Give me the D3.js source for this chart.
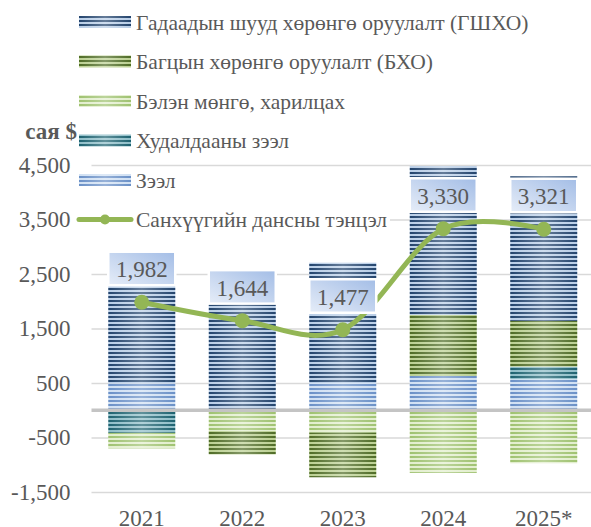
<!DOCTYPE html>
<html>
<head>
<meta charset="utf-8">
<script src="https://cdn.jsdelivr.net/npm/d3@7"></script>
<style>
  body { margin: 0; background: #fff; }
  svg { display: block; }
  svg text { font-family: 'Liberation Serif', 'Times New Roman', serif; }
</style>
</head>
<body>
<script>
// values (сая $)
var years = [ '2021', '2022', '2023', '2024', '2025*' ];
var fdi = [ 2192, 2454, 2207, 2730, 2654 ];
var portfolio = [ 0, -430, -818, 1122, 840 ];
var cash = [ -285, -380, -412, -1130, -973 ];
var tradeCredit = [ -415, 0, 0, -20, 230 ];
var loans = [ 490, 0, 500, 628, 570 ];
var balance = [ 1982, 1644, 1477, 3330, 3321 ];
var yTicks = [ -1500, -500, 500, 1500, 2500, 3500, 4500 ];

var seriesNames = {
  fdi: 'Гадаадын шууд хөрөнгө оруулалт (ГШХО)',
  portfolio: 'Багцын хөрөнгө оруулалт (БХО)',
  cash: 'Бэлэн мөнгө, харилцах',
  tradeCredit: 'Худалдааны зээл',
  loans: 'Зээл'
};
var lineName = 'Санхүүгийн дансны тэнцэл';

// stripe colours: [dark, light]
var stripes = {
  fdi: [ '#23446d', '#b9cee7' ],
  portfolio: [ '#4f6c26', '#bbd092' ],
  cash: [ '#9fc270', '#e2eecd' ],
  tradeCredit: [ '#1d6270', '#8fbec8' ],
  loans: [ '#6a90c7', '#d0e0f3' ]
};

var stackOrder = [ 'loans', 'tradeCredit', 'cash', 'portfolio', 'fdi' ];
var legendOrder = [ 'fdi', 'portfolio', 'cash', 'tradeCredit', 'loans' ];

var rows = years.map( function( yr, i ) {
  return {
    year: yr,
    fdi: fdi[i],
    portfolio: portfolio[i],
    cash: cash[i],
    tradeCredit: tradeCredit[i],
    loans: loans[i],
    balance: balance[i]
  };
} );

var width = 591,
    height = 527,
    serifFont = 'Liberation Serif',
    lineGreen = '#93b655',
    textGray = '#595959';

// plain hyphen for negatives, like the source
var fmt = function( d ) { return d3.format( ',' )( d ).replace( '\u2212', '-' ); };

var svg = d3.select( 'body' )
  .append( 'svg' )
    .attr( 'width', width )
    .attr( 'height', height )
    .attr( 'font-family', serifFont );

var defs = svg.append( 'defs' );

stackOrder.forEach( function( key ) {
  var p = defs.append( 'pattern' )
      .attr( 'id', 'pat-' + key )
      .attr( 'patternUnits', 'userSpaceOnUse' )
      .attr( 'width', 8 )
      .attr( 'height', 4 );
  p.append( 'rect' ).attr( 'width', 8 ).attr( 'height', 4 ).attr( 'fill', stripes[key][1] );
  p.append( 'rect' ).attr( 'width', 8 ).attr( 'height', 2 ).attr( 'fill', stripes[key][0] );
} );

// soft highlight across each column
var shine = defs.append( 'linearGradient' ).attr( 'id', 'shine' );
shine.append( 'stop' ).attr( 'offset', '0%' ).attr( 'stop-color', '#fff' ).attr( 'stop-opacity', 0 );
shine.append( 'stop' ).attr( 'offset', '50%' ).attr( 'stop-color', '#fff' ).attr( 'stop-opacity', 0.3 );
shine.append( 'stop' ).attr( 'offset', '100%' ).attr( 'stop-color', '#fff' ).attr( 'stop-opacity', 0 );

var labelFill = defs.append( 'linearGradient' )
    .attr( 'id', 'labelFill' )
    .attr( 'x1', 0 ).attr( 'y1', 1 ).attr( 'x2', 1 ).attr( 'y2', 0 );
labelFill.append( 'stop' ).attr( 'offset', '0%' ).attr( 'stop-color', '#e6edf8' );
labelFill.append( 'stop' ).attr( 'offset', '100%' ).attr( 'stop-color', '#a3bde6' );

// scales
var x = d3.scaleBand()
    .domain( years )
    .range( [ 91.5, 594 ] )
    .paddingInner( 0.333 )
    .paddingOuter( 0.1667 );

var y = d3.scaleLinear()
    .domain( [ -1500, 4500 ] )
    .range( [ 492, 165 ] );

// gridlines + y labels
svg.append( 'g' )
    .attr( 'transform', 'translate(91.5,0)' )
    .call( d3.axisLeft( y )
      .tickValues( yTicks )
      .tickSize( -( width - 91.5 ) )
      .tickPadding( 21 )
      .tickFormat( fmt )
    )
    .call( function( g ) {
      g.attr( 'font-family', serifFont ).attr( 'font-size', 23 );
      g.select( '.domain' ).remove();
      g.selectAll( '.tick line' ).attr( 'stroke', '#d9d9d9' ).attr( 'stroke-width', 1.5 );
      g.selectAll( '.tick text' ).attr( 'fill', textGray );
    } );

// stacked columns
var stacked = d3.stack()
    .keys( stackOrder )
    .offset( d3.stackOffsetDiverging )( rows );

var barG = svg.append( 'g' );
stacked.forEach( function( layer ) {
  barG.append( 'g' )
    .selectAll( 'rect' )
    .data( layer.filter( function( d ) { return d[1] !== d[0]; } ) )
    .join( 'rect' )
      .attr( 'x', function( d ) { return x( d.data.year ); } )
      .attr( 'width', x.bandwidth() )
      .attr( 'y', function( d ) { return y( Math.max( d[0], d[1] ) ); } )
      .attr( 'height', function( d ) { return Math.abs( y( d[0] ) - y( d[1] ) ); } )
      .attr( 'fill', 'url(#pat-' + layer.key + ')' );
} );

// highlight over whole columns
function posSum( d ) { return d3.sum( stackOrder, function( k ) { return Math.max( d[k], 0 ); } ); }
function negSum( d ) { return d3.sum( stackOrder, function( k ) { return Math.min( d[k], 0 ); } ); }

barG.append( 'g' )
  .selectAll( 'rect' )
  .data( rows )
  .join( 'rect' )
    .attr( 'x', function( d ) { return x( d.year ); } )
    .attr( 'width', x.bandwidth() )
    .attr( 'y', function( d ) { return y( posSum( d ) ); } )
    .attr( 'height', function( d ) { return y( negSum( d ) ) - y( posSum( d ) ); } )
    .attr( 'fill', 'url(#shine)' );

// zero line
svg.append( 'line' )
    .attr( 'x1', 91.5 )
    .attr( 'x2', width )
    .attr( 'y1', y( 0 ) )
    .attr( 'y2', y( 0 ) )
    .attr( 'stroke', '#c4c4c4' )
    .attr( 'stroke-width', 3.5 );

// x labels
svg.append( 'g' )
  .selectAll( 'text' )
  .data( years )
  .join( 'text' )
    .attr( 'x', function( d ) { return x( d ) + x.bandwidth() / 2; } )
    .attr( 'y', 526 )
    .attr( 'text-anchor', 'middle' )
    .attr( 'fill', textGray )
    .attr( 'font-size', 23 )
    .text( function( d ) { return d; } );

// balance line
var cx = function( d ) { return x( d.year ) + x.bandwidth() / 2; };
var line = d3.line()
    .x( cx )
    .y( function( d ) { return y( d.balance ); } )
    .curve( d3.curveCatmullRom.alpha( 0 ) );

svg.append( 'path' )
    .attr( 'd', line( rows ) )
    .attr( 'fill', 'none' )
    .attr( 'stroke', lineGreen )
    .attr( 'stroke-width', 5 )
    .attr( 'stroke-linecap', 'round' );

svg.append( 'g' )
  .selectAll( 'circle' )
  .data( rows )
  .join( 'circle' )
    .attr( 'cx', cx )
    .attr( 'cy', function( d ) { return y( d.balance ); } )
    .attr( 'r', 7.5 )
    .attr( 'fill', lineGreen );

// data labels
var lbl = svg.append( 'g' )
  .selectAll( 'g' )
  .data( rows )
  .join( 'g' )
    .attr( 'transform', function( d ) {
      return 'translate(' + cx( d ) + ',' + ( y( d.balance ) - 17 ) + ')';
    } );

lbl.append( 'rect' )
    .attr( 'x', -33.5 )
    .attr( 'y', -33.5 )
    .attr( 'width', 67 )
    .attr( 'height', 33.5 )
    .attr( 'fill', 'url(#labelFill)' )
    .attr( 'stroke', '#fff' )
    .attr( 'stroke-width', 2.5 );

lbl.append( 'text' )
    .attr( 'y', -8 )
    .attr( 'text-anchor', 'middle' )
    .attr( 'fill', textGray )
    .attr( 'font-size', 23 )
    .text( function( d ) { return fmt( d.balance ); } );

// unit label
svg.append( 'text' )
    .attr( 'x', 77 )
    .attr( 'y', 139 )
    .attr( 'text-anchor', 'end' )
    .attr( 'fill', textGray )
    .attr( 'font-size', 23 )
    .attr( 'font-weight', 'bold' )
    .text( 'сая $' );

// legend
var rowY = [ 22, 61.5, 101, 140.5, 180, 219.5 ];
var legend = svg.append( 'g' );

legendOrder.forEach( function( key, i ) {
  legend.append( 'rect' )
      .attr( 'x', 79 )
      .attr( 'y', rowY[i] - 6 )
      .attr( 'width', 52 )
      .attr( 'height', 12 )
      .attr( 'fill', 'url(#pat-' + key + ')' );
  legend.append( 'rect' )
      .attr( 'x', 79 )
      .attr( 'y', rowY[i] - 6 )
      .attr( 'width', 52 )
      .attr( 'height', 12 )
      .attr( 'fill', 'url(#shine)' );
  legend.append( 'text' )
      .attr( 'x', 136 )
      .attr( 'y', rowY[i] + 7.5 )
      .attr( 'fill', textGray )
      .attr( 'font-size', 21.5 )
      .text( seriesNames[key] );
} );

var ly = rowY[5];
var lineBg = legend.append( 'rect' )
    .attr( 'x', 133 )
    .attr( 'y', ly - 11 )
    .attr( 'height', 22 )
    .attr( 'fill', '#fff' );
var lineText = legend.append( 'text' )
    .attr( 'x', 136 )
    .attr( 'y', ly + 7.5 )
    .attr( 'fill', textGray )
    .attr( 'font-size', 21.5 )
    .text( lineName );
lineBg.attr( 'width', lineText.node().getComputedTextLength() + 6 );
legend.append( 'line' )
    .attr( 'x1', 79 )
    .attr( 'x2', 131 )
    .attr( 'y1', ly )
    .attr( 'y2', ly )
    .attr( 'stroke', lineGreen )
    .attr( 'stroke-width', 5 )
    .attr( 'stroke-linecap', 'round' );
legend.append( 'circle' )
    .attr( 'cx', 105 )
    .attr( 'cy', ly )
    .attr( 'r', 5 )
    .attr( 'fill', lineGreen );
</script>
</body>
</html>
